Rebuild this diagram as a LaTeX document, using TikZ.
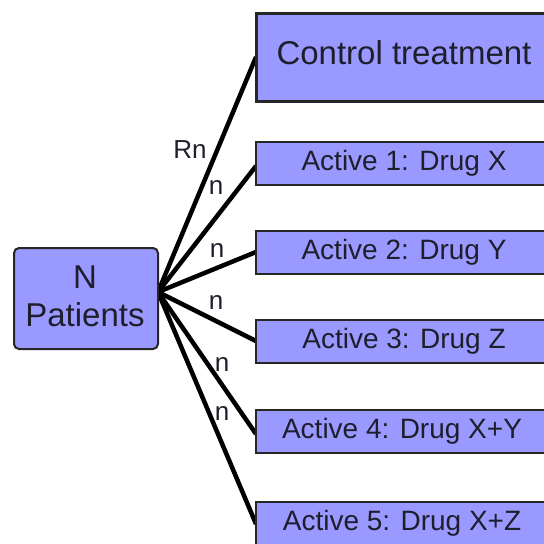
\documentclass[tikz,border=0pt]{standalone}
\usepackage{fontspec}
\setmainfont{Liberation Sans}
\definecolor{boxfill}{RGB}{153,153,255}
\definecolor{txt}{RGB}{30,30,45}
\begin{document}
\begin{tikzpicture}[x=1pt,y=-1pt,
  armbox/.style={draw=black!85,line width=2pt,fill=boxfill,text=txt,inner sep=0pt,anchor=north west},
  armline/.style={line width=4.5pt,black},
  armtext/.style={text=txt,font=\fontsize{28}{32}\selectfont},
  armlabel/.style={text=txt,font=\fontsize{26}{30}\selectfont,inner sep=0pt}]
\useasboundingbox (0,0) rectangle (544,544);
\clip (0,0) rectangle (544,544);
% hub and line ends
\coordinate (hub) at (158,292);
\coordinate (e0) at (256,57);
\coordinate (e1) at (256,166);
\coordinate (e2) at (256,252);
\coordinate (e3) at (256,341);
\coordinate (e4) at (256,434);
\coordinate (e5) at (256,524);
\foreach \i in {0,...,5} {\draw[armline] (hub) -- (e\i);}
% boxes
\node[armbox,minimum width=300pt,minimum height=88pt,line width=2.5pt] (ctrl) at (255,12) {};
\node[text=txt,font=\fontsize{33}{38}\selectfont] (ctrlt) at (404,53) {Control treatment};
\node[armbox,minimum width=300pt,minimum height=43pt] (a1) at (255,141) {};
\node[armbox,minimum width=300pt,minimum height=43pt] (a2) at (255,230) {};
\node[armbox,minimum width=300pt,minimum height=43pt] (a3) at (255,319) {};
\node[armbox,minimum width=300pt,minimum height=43pt] (a4) at (255,409) {};
\node[armbox,minimum width=300pt,minimum height=50pt] (a5) at (255,501) {};
\node[armtext] (a1t) at (404,163) {Active 1: Drug X};
\node[armtext] (a2t) at (404,252) {Active 2: Drug Y};
\node[armtext] (a3t) at (404,341) {Active 3: Drug Z};
\node[armtext] (a4t) at (402,431) {Active 4: Drug X+Y};
\node[armtext] (a5t) at (402,523) {Active 5: Drug X+Z};
% patients
\node[draw=black!85,line width=2pt,fill=boxfill,rounded corners=5pt,minimum width=144pt,minimum height=101pt,inner sep=0pt,anchor=north west] (pat) at (13,247) {};
\node[text=txt,font=\fontsize{33}{38}\selectfont,align=center] (patt) at (85,296) {N\\Patients};
% labels
\node[armlabel] (l0) at (190,150) {Rn};
\node[armlabel] (l1) at (216,188) {n};
\node[armlabel] (l2) at (217,251) {n};
\node[armlabel] (l3) at (216,302) {n};
\node[armlabel] (l4) at (222,364) {n};
\node[armlabel] (l5) at (222,413) {n};
\end{tikzpicture}
\end{document}
